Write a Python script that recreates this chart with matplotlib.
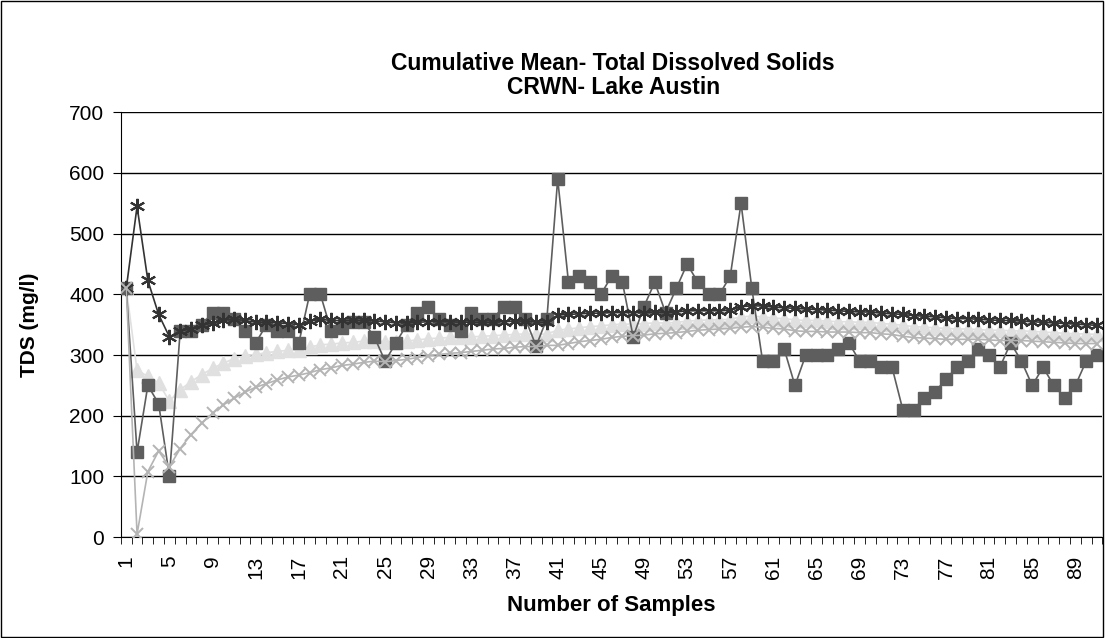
import matplotlib.pyplot as plt
from matplotlib.patches import Rectangle

plt.rcParams['font.family'] = ['Liberation Sans', 'DejaVu Sans']

samples = list(range(1, 92))

# raw TDS results (mg/l)
tds = [410, 140, 250, 220, 100, 340, 340, 350, 370, 370,
       360, 340, 320, 350, 340, 340, 320, 400, 400, 340,
       345, 355, 355, 330, 290, 320, 350, 370, 380, 360,
       350, 340, 370, 360, 360, 380, 380, 360, 315, 360,
       590, 420, 430, 420, 400, 430, 420, 330, 380, 420,
       370, 410, 450, 420, 400, 400, 430, 550, 410, 290,
       290, 310, 250, 300, 300, 300, 310, 320, 290, 290,
       280, 280, 210, 210, 230, 240, 260, 280, 290, 310,
       300, 280, 320, 290, 250, 280, 250, 230, 250, 290, 300]

# cumulative mean
cum_mean = [410, 275, 265, 254, 224, 243, 256, 268, 278, 287,
            294, 299, 301, 304, 306, 308, 308, 313, 317, 318,
            320, 321, 323, 323, 322, 322, 323, 325, 327, 328,
            329, 329, 330, 331, 332, 333, 334, 335, 334, 335,
            341, 343, 345, 347, 348, 350, 351, 351, 352, 353,
            353, 354, 356, 357, 358, 358, 359, 363, 364, 363,
            361, 360, 358, 357, 357, 356, 355, 355, 354, 354,
            352, 351, 349, 347, 346, 345, 344, 343, 343, 342,
            341, 341, 340, 340, 339, 338, 337, 336, 335, 335, 334]

# upper limit
upper = [410, 545, 423, 367, 330, 340, 343, 349, 353, 357,
         359, 357, 354, 354, 353, 352, 350, 356, 359, 357,
         357, 357, 357, 356, 355, 353, 353, 354, 355, 355,
         355, 354, 354, 354, 354, 355, 356, 356, 354, 354,
         366, 367, 368, 369, 369, 370, 370, 370, 370, 371,
         370, 371, 373, 373, 373, 373, 374, 380, 381, 381,
         379, 378, 377, 376, 375, 374, 373, 372, 371, 371,
         369, 368, 367, 365, 364, 363, 361, 360, 360, 359,
         358, 357, 357, 356, 355, 354, 353, 352, 351, 350, 349]

# lower limit
lower = [410, 5, 108, 142, 116, 146, 169, 188, 204, 218,
         229, 239, 247, 253, 259, 264, 267, 271, 276, 279,
         283, 285, 288, 290, 289, 291, 293, 296, 299, 301,
         303, 304, 306, 308, 310, 311, 313, 314, 314, 316,
         316, 319, 322, 324, 326, 329, 331, 332, 333, 335,
         336, 337, 339, 341, 342, 343, 344, 346, 347, 346,
         344, 343, 340, 339, 339, 338, 338, 338, 337, 337,
         335, 334, 331, 329, 328, 327, 326, 326, 326, 326,
         325, 324, 324, 324, 323, 322, 321, 320, 319, 319, 319]

fig = plt.figure(figsize=(11.09, 6.38), dpi=100)
ax = fig.add_axes([0.109, 0.158, 0.885, 0.666])

ax.plot(samples, cum_mean, color="#e0e0e0", marker="^", markersize=10,
        linewidth=1.2, zorder=2)
ax.plot(samples, tds, color="#5e5e5e", marker="s", markersize=8.5,
        linewidth=1.2, zorder=3)
ax.plot(samples, upper, color="#333333", marker=(6, 2, 0), markersize=11,
        markeredgewidth=1.5, linewidth=1.2, zorder=4)
ax.plot(samples, lower, color="#b4b4b4", marker="x", markersize=9,
        markeredgewidth=1.4, linewidth=1.2, zorder=5)

ax.set_xlim(0.5, 91.5)
ax.set_ylim(0, 700)
ax.set_yticks(range(0, 701, 100))
ax.set_xticks(samples[::4])
ax.set_xticks([s - 0.5 for s in samples] + [91.5], minor=True)
ax.tick_params(axis="x", which="major", length=0, labelsize=15,
               labelrotation=90, pad=13)
ax.tick_params(axis="x", which="minor", length=5, color="black")
ax.tick_params(axis="y", length=6, pad=6, labelsize=15, color="black")
ax.grid(axis="y", color="black", linewidth=1)
ax.set_axisbelow(True)
for side in ["top", "right"]:
    ax.spines[side].set_visible(False)
ax.spines["left"].set_color("black")
ax.spines["bottom"].set_color("black")

fig.text(0.553, 1 - 63 / 638, "Cumulative Mean- Total Dissolved Solids",
         ha="center", va="center", fontsize=16.5, fontweight="bold")
fig.text(0.553, 1 - 87 / 638, "CRWN- Lake Austin",
         ha="center", va="center", fontsize=16.5, fontweight="bold")
ax.set_xlabel("Number of Samples", fontsize=16, fontweight="bold")
ax.xaxis.set_label_coords(0.5, -(605 - 537) / 425, transform=ax.transAxes)
ax.xaxis.label.set_va("center")
ax.set_ylabel("TDS (mg/l)", fontsize=15, fontweight="bold")
ax.yaxis.set_label_coords(-0.083, 0.5)

fig.patches.append(Rectangle((0.001, 0.002), 0.9935, 0.996, transform=fig.transFigure,
                             fill=False, edgecolor="black", linewidth=1))

fig.savefig("out.png", dpi=100)
